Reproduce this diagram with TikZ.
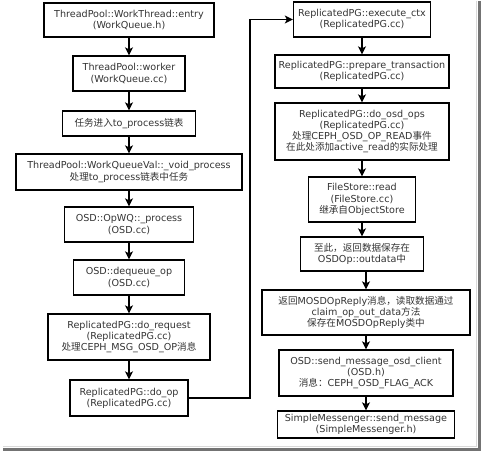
\documentclass[tikz,border=0pt]{standalone}
\usepackage{fontspec}
\setmainfont{DejaVu Sans}
\newfontfamily\cjk{Noto Sans CJK SC}
\usetikzlibrary{arrows.meta}
\newcommand{\zh}[1]{{\cjk #1}}
\begin{document}
\begin{tikzpicture}[x=1pt,y=-1pt,
  box/.style={draw=black, line width=1.3pt, align=center, text=black!80,
    font=\fontsize{9.6}{11.2}\selectfont, inner sep=0pt},
  arr/.style={draw=black, line width=1.6pt, -{Stealth[length=8pt,width=8pt,inset=2pt]}}]
\useasboundingbox (0,0) rectangle (482,452);
% shadow frame
\fill[black!55] (478,1) rectangle (481,451);
\fill[black!55] (3,448) rectangle (481,451);
\draw[black!15, line width=0.6pt] (476.5,1) -- (476.5,446.5) -- (3,446.5);
% left column
\node[box, minimum width=170pt, minimum height=34pt] (n1) at (129,20) {ThreadPool::WorkThread::entry\\(WorkQueue.h)};
\node[box, minimum width=112pt, minimum height=35pt] (n2) at (129,73.5) {ThreadPool::worker\\(WorkQueue.cc)};
\node[box, minimum width=133pt, minimum height=25pt] (n3) at (129,123.5) {\zh{任务进入}to\_process\zh{链表}};
\node[box, minimum width=226pt, minimum height=36pt] (n4) at (129,172) {ThreadPool::WorkQueueVal::\_void\_process\\\zh{处理}to\_process\zh{链表中任务}};
\node[box, minimum width=129pt, minimum height=35pt] (n5) at (129,224.5) {OSD::OpWQ::\_process\\(OSD.cc)};
\node[box, minimum width=111pt, minimum height=35pt] (n6) at (129,277.5) {OSD::dequeue\_op\\(OSD.cc)};
\node[box, minimum width=162pt, minimum height=46pt] (n7) at (129,337) {ReplicatedPG::do\_request\\(ReplicatedPG.cc)\\\zh{处理}CEPH\_MSG\_OSD\_OP\zh{消息}};
\node[box, minimum width=118pt, minimum height=36pt] (n8) at (129,398) {ReplicatedPG::do\_op\\(ReplicatedPG.cc)};
% right column
\node[box, minimum width=137pt, minimum height=35pt] (m1) at (362,19.5) {ReplicatedPG::execute\_ctx\\(ReplicatedPG.cc)};
\node[box, minimum width=174pt, minimum height=33pt] (m2) at (362,71.5) {ReplicatedPG::prepare\_transaction\\(ReplicatedPG.cc)};
\node[box, minimum width=174pt, minimum height=57pt] (m3) at (362,131.5) {ReplicatedPG::do\_osd\_ops\\(ReplicatedPG.cc)\\\zh{处理}CEPH\_OSD\_OP\_READ\zh{事件}\\\zh{在此处添加}active\_read\zh{的实际处理}};
\node[box, minimum width=107pt, minimum height=45pt] (m4) at (362,199.5) {FileStore::read\\(FileStore.cc)\\\zh{继承自}ObjectStore};
\node[box, minimum width=123pt, minimum height=34pt] (m5) at (362,254) {\zh{至此，返回数据保存在}\\OSDOp::outdata\zh{中}};
\node[box, minimum width=208pt, minimum height=45pt] (m6) at (366,312.5) {\zh{返回}MOSDOpReply\zh{消息，读取数据通过}\\claim\_op\_out\_data\zh{方法}\\\zh{保存在}MOSDOpReply\zh{类中}};
\node[box, minimum width=174pt, minimum height=46pt] (m7) at (366,373) {OSD::send\_message\_osd\_client\\(OSD.h)\\\zh{消息：}CEPH\_OSD\_FLAG\_ACK};
\node[box, minimum width=177pt, minimum height=27pt] (m8) at (366,424.5) {SimpleMessenger::send\_message\\(SimpleMessenger.h)};
% arrows
\foreach \a/\b in {n1/n2,n2/n3,n3/n4,n4/n5,n5/n6,n6/n7,n7/n8,m1/m2,m2/m3,m3/m4,m4/m5}
  \draw[arr] (\a.south) -- (\b.north);
\foreach \a/\b in {m5/m6,m6/m7,m7/m8}
  \draw[arr] (\a.south -| \b.north) -- (\b.north);
\coordinate (lp) at (250,0);
\draw[arr] (n8.east) -- (n8.east -| lp) |- (m1.west);
\end{tikzpicture}
\end{document}
